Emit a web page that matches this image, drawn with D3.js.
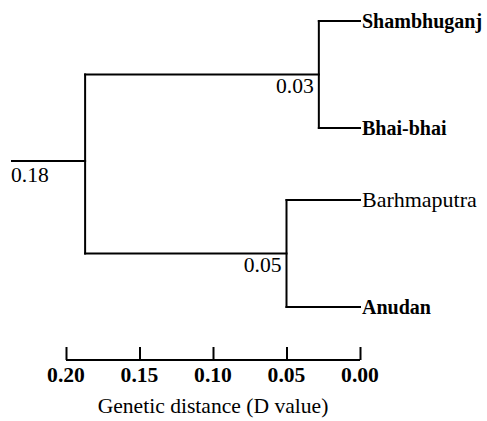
<!DOCTYPE html>
<html>
<head>
<meta charset="utf-8">
<script src="https://cdn.jsdelivr.net/npm/d3@7.9.0/dist/d3.min.js"></script>
<style>
  html, body { margin: 0; padding: 0; background: #fff; }
</style>
</head>
<body>
<svg id="chart" width="487" height="421"></svg>
<script>
// leaves, top to bottom
const leaves = ['Shambhuganj', 'Bhai-bhai', 'Barhmaputra', 'Anudan'];
// which cluster each leaf belongs to
const leafCluster = [0, 0, 1, 1];
// cluster node heights (genetic distance) and their labels
const clusterHeights = [0.028, 0.05];
const clusterLabels = ['0.03', '0.05'];
// root
const rootHeight = 0.187;
const rootLabel = '0.18';
// axis ticks
const tickValues = [0.20, 0.15, 0.10, 0.05, 0.00];
const axisTitle = 'Genetic distance (D value)';

const svg = d3.select('#chart');
const stretch = 1.08; // the source text is a bit wider than Times

const x = d3.scaleLinear().domain([0.2, 0]).range([66, 360]);
const rowStep = 107, clusterGap = 35, firstRow = 21;
const yLeaf = (i) => firstRow + i * rowStep - leafCluster[i] * clusterGap;

const g = svg.append('g')
  .attr('fill', 'none')
  .attr('stroke', '#000')
  .attr('stroke-width', 2)
  .attr('stroke-linecap', 'square');

// cluster nodes
const clusters = clusterHeights.map((h, c) => {
  const ys = leaves.map((_, i) => i).filter(i => leafCluster[i] === c).map(yLeaf);
  return { h, label: clusterLabels[c], y0: d3.min(ys), y1: d3.max(ys), y: d3.mean(ys), ys };
});

clusters.forEach(c => {
  // vertical joint
  g.append('line').attr('x1', x(c.h)).attr('x2', x(c.h)).attr('y1', c.y0).attr('y2', c.y1);
  // branches to leaves
  c.ys.forEach(y => {
    g.append('line').attr('x1', x(c.h)).attr('x2', x(0)).attr('y1', y).attr('y2', y);
  });
});

// root joint
const rootY = d3.mean(clusters, c => c.y) - 3;
g.append('line').attr('x1', x(rootHeight)).attr('x2', x(rootHeight))
  .attr('y1', clusters[0].y).attr('y2', clusters[1].y);
clusters.forEach(c => {
  g.append('line').attr('x1', x(rootHeight)).attr('x2', x(c.h)).attr('y1', c.y).attr('y2', c.y);
});
// root stub
g.append('line').attr('x1', 12).attr('x2', x(rootHeight)).attr('y1', rootY).attr('y2', rootY);

function stretchedText(px, py, str, anchor, weight, sx = stretch) {
  return svg.append('g').attr('transform', `translate(${px},${py}) scale(${sx},1)`)
    .append('text')
    .attr('font-family', "'Liberation Serif'")
    .attr('text-anchor', anchor)
    .attr('font-size', 20)
    .attr('font-weight', weight)
    .text(str);
}

// leaf labels (bold ones are already wide, keep them unstretched)
leaves.forEach((name, i) => {
  const plain = name === 'Barhmaputra';
  stretchedText(x(0) + 2, yLeaf(i) + 7, name, 'start', plain ? 'normal' : 'bold', plain ? 1.1 : 1.0);
});

// node labels
clusters.forEach(c => {
  stretchedText(x(c.h) - 5, c.y + 18.5, c.label, 'end', 'normal');
});
stretchedText(11, rootY + 21, rootLabel, 'start', 'normal');

// axis
const axis = d3.axisTop(x)
  .tickValues(tickValues)
  .tickFormat(d3.format('.2f'))
  .tickSize(13)
  .tickSizeOuter(0);

const ax = svg.append('g').attr('transform', 'translate(0,360)').call(axis);
ax.select('.domain').attr('stroke-width', 2).attr('d', `M${x(0.2)},0H${x(0)}`);
ax.selectAll('.tick line').attr('stroke-width', 2).attr('stroke', '#000');
ax.selectAll('.tick text').remove();

tickValues.forEach(v => {
  stretchedText(x(v), 382, d3.format('.2f')(v), 'middle', 'bold');
});

stretchedText(x(0.10), 413, axisTitle, 'middle', 'normal');
</script>
</body>
</html>
